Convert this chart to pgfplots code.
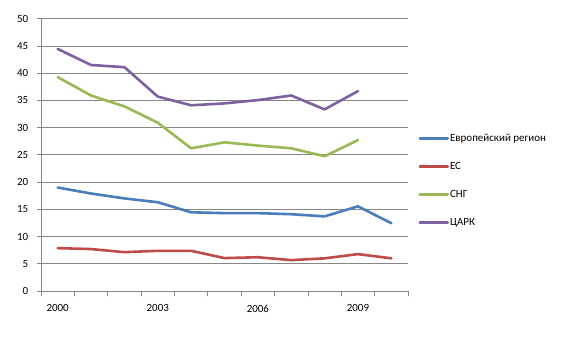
\documentclass[border=0pt]{standalone}
\usepackage{fontspec}
\setmainfont{Carlito}
\usepackage{pgfplots}
\pgfplotsset{compat=1.18}
\definecolor{cblue}{HTML}{4A7EBB}
\definecolor{cred}{HTML}{BE4B48}
\definecolor{cgreen}{HTML}{98B954}
\definecolor{cpurple}{HTML}{7D60A0}
\definecolor{gridc}{HTML}{868686}
\begin{document}
\fontsize{11}{13}\selectfont
\begin{tikzpicture}
\path[use as bounding box] (0,0) rectangle (584bp,350bp);
\begin{axis}[
  at={(41bp,59bp)}, anchor=south west,
  scale only axis, width=367bp, height=272.3bp,
  xmin=-0.5, xmax=10.5, ymin=0, ymax=50,
  ytick={0,5,...,50},
  xtick={0,3,6,9}, xticklabels={2000,2003,2006,2009},
  minor xtick={-0.5,0.5,...,10.5},
  axis x line*=bottom, axis y line*=left,
  axis line style={gridc, line width=0.75bp},
  ymajorgrids, major grid style={gridc, line width=0.75bp},
  tick align=outside, major tick length=4bp, minor tick length=5bp,
  every major x tick/.append style={draw=none},
  every tick/.append style={gridc, line width=0.75bp},
  /pgf/number format/assume math mode=true,
  ticklabel style={font=\fontsize{11}{13}\selectfont},
  yticklabel style={xshift=-5bp},
  xticklabel style={yshift=-6bp},
  legend cell align=left,
  legend style={at={(1.020,0.593)}, anchor=north west, draw=none, fill=none,
    font=\fontsize{11}{13}\selectfont, row sep=15.3bp,
    /tikz/every even column/.style={column sep=0bp},
    nodes={inner xsep=1bp}},
  legend image code/.code={\draw[#1] (0bp,0bp) -- (28bp,0bp);},
  every axis plot/.append style={line width=2.6bp, line join=round, line cap=round},
]
\addplot[cblue] coordinates {(0,19.0) (1,17.9) (2,17.0) (3,16.3) (4,14.45) (5,14.3) (6,14.3) (7,14.1) (8,13.7) (9,15.55) (10,12.45)};
\addlegendentry{Европейский регион}
\addplot[cred] coordinates {(0,7.87) (1,7.7) (2,7.13) (3,7.38) (4,7.38) (5,6.04) (6,6.2) (7,5.67) (8,6.0) (9,6.77) (10,6.0)};
\addlegendentry{ЕС}
\addplot[cgreen] coordinates {(0,39.27) (1,35.9) (2,33.9) (3,30.9) (4,26.2) (5,27.3) (6,26.7) (7,26.2) (8,24.75) (9,27.7)};
\addlegendentry{СНГ}
\addplot[cpurple] coordinates {(0,44.45) (1,41.5) (2,41.1) (3,35.7) (4,34.1) (5,34.45) (6,35.05) (7,35.9) (8,33.35) (9,36.7)};
\addlegendentry{ЦАРК}
\end{axis}
\end{tikzpicture}
\end{document}
